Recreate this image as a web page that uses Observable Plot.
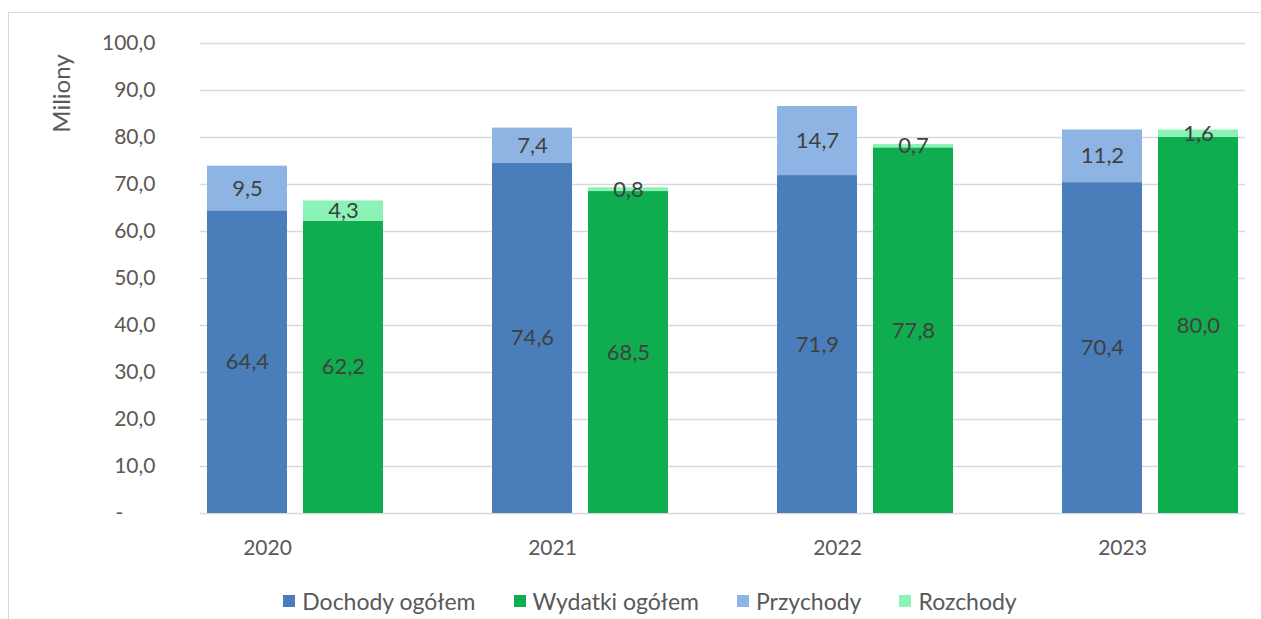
<!DOCTYPE html>
<html>
<head>
<meta charset="utf-8">
<script src="https://cdn.jsdelivr.net/npm/d3@7"></script>
<script src="https://cdn.jsdelivr.net/npm/@observablehq/plot@0.6"></script>
<style>
  html, body { margin: 0; padding: 0; background: #fff; overflow: hidden; width: 1261px; height: 619px; }
  #frame { position: absolute; left: 8px; top: 12px; width: 1280px; height: 640px; border: 1px solid #d9d9d9; box-sizing: border-box; }
  #chart { position: absolute; left: 0; top: 0; }
  #legend { position: absolute; left: 0; width: 1300px; top: 588px; display: flex; justify-content: center; gap: 38px;
            font-family: Lato, sans-serif; font-size: 23px; color: #595959; line-height: 26px; }
  #legend .item { display: flex; align-items: center; gap: 7px; }
  #legend .sw { width: 12px; height: 12px; display: inline-block; }
</style>
</head>
<body>
<div id="frame"></div>
<div id="chart"></div>
<div id="legend"></div>
<script>
const years = ["2020", "2021", "2022", "2023"];
const dochody = [64.4, 74.6, 71.9, 70.4];
const przychody = [9.5, 7.4, 14.7, 11.2];
const wydatki = [62.2, 68.5, 77.8, 80.0];
const rozchody = [4.3, 0.8, 0.7, 1.6];
const seriesNames = ["Dochody ogółem", "Wydatki ogółem", "Przychody", "Rozchody"];
const seriesColors = ["#4A7EBB", "#10AD50", "#8EB4E3", "#8AF3B5"];
const yTicks = [0, 10, 20, 30, 40, 50, 60, 70, 80, 90, 100];
const yLabel = "Miliony";

const fmt = v => v.toFixed(1).replace(".", ",");

const leftRows = years.flatMap((year, i) => [
  {year, series: seriesNames[0], value: dochody[i]},
  {year, series: seriesNames[2], value: przychody[i]}
]);
const rightRows = years.flatMap((year, i) => [
  {year, series: seriesNames[1], value: wydatki[i]},
  {year, series: seriesNames[3], value: rozchody[i]}
]);

const font = "Lato, sans-serif";

const chart = Plot.plot({
  width: 1261,
  height: 570,
  marginLeft: 200,
  marginRight: 16,
  marginTop: 43,
  marginBottom: 57,
  style: {fontFamily: font, fontSize: "20px", color: "#595959", background: "transparent"},
  x: {domain: years, paddingInner: 0.383, paddingOuter: 0.023, label: null},
  y: {domain: [0, 100], label: null},
  color: {domain: seriesNames, range: seriesColors},
  marks: [
    Plot.ruleY(yTicks, {stroke: "#d9d9d9", strokeWidth: 1.3}),
    Plot.axisX({tickSize: 0, tickPadding: 27, dx: -28, fontSize: 21, label: null, fill: "#595959"}),
    Plot.axisY({ticks: yTicks, tickSize: 0, tickPadding: 45, fontSize: 21, label: null, fill: "#595959",
      tickFormat: v => v === 0 ? "-\u00a0\u00a0\u00a0\u00a0\u00a0\u00a0" : fmt(v)}),
    Plot.barY(leftRows, Plot.stackY({x: "year", y: "value", z: "series", fill: "series", insetLeft: 0, insetRight: 96})),
    Plot.barY(rightRows, Plot.stackY({x: "year", y: "value", z: "series", fill: "series", insetLeft: 96, insetRight: 0})),
    Plot.text(leftRows, Plot.stackY({x: "year", y: "value", z: "series", text: d => fmt(d.value), dx: -48,
      fill: "#404040", fontSize: 22, fontFamily: font})),
    Plot.text(rightRows, Plot.stackY({x: "year", y: "value", z: "series", text: d => fmt(d.value), dx: 48,
      fill: "#404040", fontSize: 22, fontFamily: font})),
    Plot.text([yLabel], {text: d => d, frameAnchor: "top-left", rotate: -90, dx: -138, dy: 50,
      textAnchor: "middle", lineAnchor: "middle", fill: "#595959", fontSize: 24, fontFamily: font})
  ]
});
document.getElementById("chart").appendChild(chart);

const legend = document.getElementById("legend");
seriesNames.forEach((name, i) => {
  const item = document.createElement("div");
  item.className = "item";
  const sw = document.createElement("span");
  sw.className = "sw";
  sw.style.background = seriesColors[i];
  const label = document.createElement("span");
  label.textContent = name;
  item.appendChild(sw);
  item.appendChild(label);
  legend.appendChild(item);
});
</script>
</body>
</html>
